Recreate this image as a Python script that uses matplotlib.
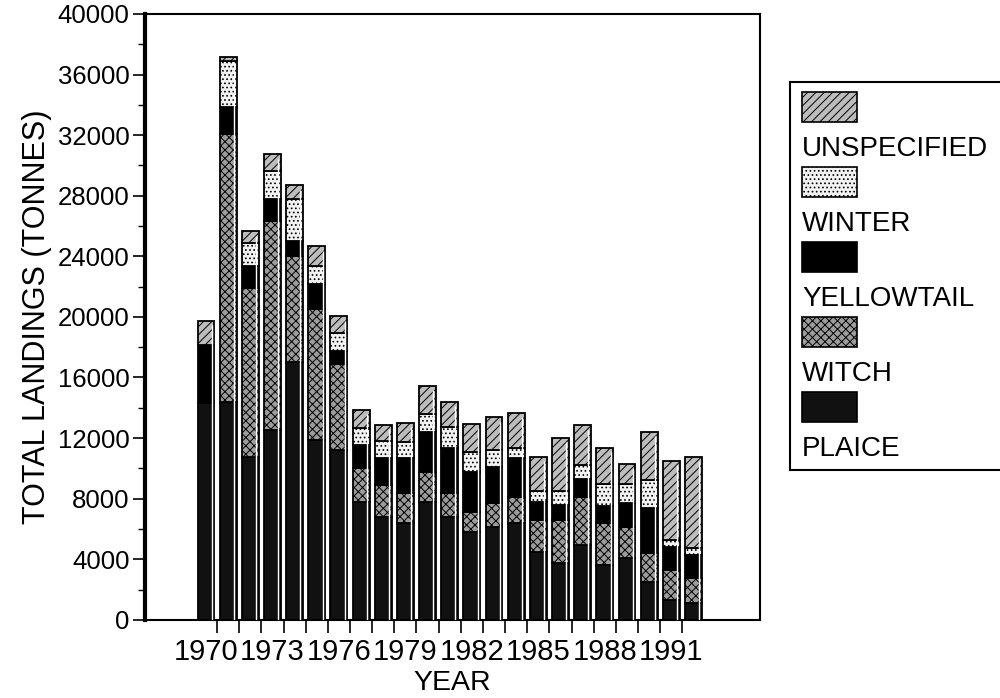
import numpy as np
import matplotlib
matplotlib.use("Agg")
import matplotlib.pyplot as plt
from matplotlib.patches import Rectangle

plt.rcParams["font.family"] = ["Liberation Sans", "DejaVu Sans"]
plt.rcParams["hatch.linewidth"] = 0.7

years = np.arange(1970, 1993)
plaice = [14300, 14350, 10770, 12560, 16990, 11900, 11240, 7800, 6810, 6410, 7800, 6810,
          5820, 6150, 6410, 4490, 3770, 4960, 3640, 4100, 2510, 1320, 1120]
witch = [0, 17700, 11170, 13750, 7010, 8590, 5620, 2250, 2120, 1980, 1980, 1590,
         1320, 1590, 1720, 2120, 2840, 3170, 2780, 2050, 1920, 1980, 1650]
yellowtail = [3870, 1780, 1390, 1450, 990, 1650, 860, 1520, 1780, 2310, 2640, 2970,
              2640, 2380, 2580, 1190, 990, 1190, 1120, 1590, 2970, 1520, 1520]
winter = [0, 3040, 1520, 1850, 2780, 1190, 1190, 1120, 1120, 1060, 1190, 1390,
          1320, 1120, 660, 730, 930, 930, 1450, 1260, 1850, 460, 460]
unspecified = [1590, 260, 790, 1120, 930, 1320, 1120, 1190, 1060, 1260, 1850, 1650,
               1850, 2120, 2310, 2250, 3500, 2580, 2380, 1260, 3170, 5220, 6010]

series = [("PLAICE", plaice), ("WITCH", witch), ("YELLOWTAIL", yellowtail),
          ("WINTER", winter), ("UNSPECIFIED", unspecified)]
styles = {
    "PLAICE": dict(color="#111111", hatch=None),
    "WITCH": dict(color="#9c9c9c", hatch="xxxx"),
    "YELLOWTAIL": dict(color="#000000", hatch=None),
    "WINTER": dict(color="#f2f2f2", hatch="...."),
    "UNSPECIFIED": dict(color="#bdbdbd", hatch="////"),
}

fig = plt.figure(figsize=(10, 6.98), dpi=100)
ax = fig.add_axes([0.145, 0.112, 0.615, 0.868])

bottom = np.zeros(len(years))
for name, vals in series:
    st = styles[name]
    ax.bar(years, vals, bottom=bottom, width=0.76, color=st["color"], hatch=st["hatch"],
           edgecolor="black", linewidth=1.3, zorder=2)
    bottom += np.array(vals)

# white highlight stripe on the right side of each bar
ax.vlines(years + 0.26, 0, bottom - 300, color="white", lw=1.0, zorder=3)

ax.set_xlim(1967.25, 1995)
ax.set_ylim(0, 40000)
ax.set_yticks(np.arange(0, 40001, 4000))
ax.set_yticks(np.arange(0, 40001, 2000), minor=True)
ax.set_xticks(years[::3])
ax.set_xticks(np.arange(1970.5, 1992, 1), minor=True)
ax.tick_params(axis="x", which="major", length=0, labelsize=21, pad=13)
ax.tick_params(axis="x", which="minor", length=9, width=1.2, direction="out")
ax.tick_params(axis="y", which="major", length=9, width=1.2, labelsize=18.5, pad=2)
ax.tick_params(axis="y", which="minor", length=5, width=1.0)
for s in ax.spines.values():
    s.set_linewidth(1.5)
ax.spines["left"].set_linewidth(3)

ax.set_xlabel("YEAR", fontsize=20.5, labelpad=3)
ax.set_ylabel("TOTAL LANDINGS (TONNES)", fontsize=22, labelpad=4)

# legend: swatch above each label, as in the original
leg = fig.add_axes([0.79, 1 - 470 / 698, 0.22, (470 - 82) / 698])
leg.set_xlim(0, 220)
leg.set_ylim(388, 0)
leg.set_xticks([])
leg.set_yticks([])
for s in leg.spines.values():
    s.set_linewidth(1.5)
for i, (name, _) in enumerate(series[::-1]):
    st = styles[name]
    y0 = 10 + i * 75
    leg.add_patch(Rectangle((12, y0), 55, 30, facecolor=st["color"], hatch=st["hatch"],
                            edgecolor="black", linewidth=1.2))
    leg.text(12, y0 + 64, name, fontsize=20, va="baseline", ha="left")

fig.savefig("out.png", dpi=100)
